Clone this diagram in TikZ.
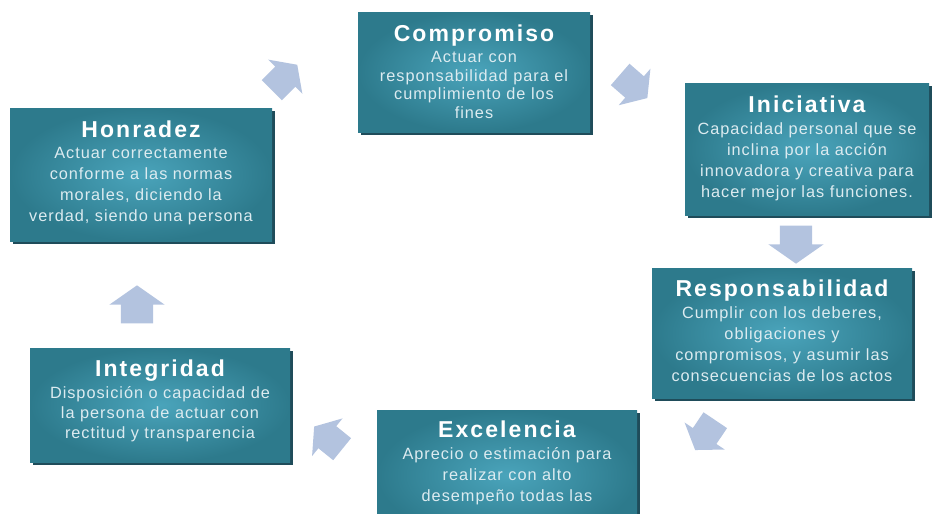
\documentclass[tikz,border=0pt]{standalone}
\usepackage{fontspec}
\setmainfont{Liberation Sans}
\newfontfamily\valtitlefont[LetterSpace=9]{Liberation Sans}
\newfontfamily\valbodyfont[LetterSpace=6]{Liberation Sans}
\usetikzlibrary{positioning,shapes.arrows,shadows}

\definecolor{valouter}{HTML}{2D7A8C}
\definecolor{valinner}{HTML}{4AA4BB}
\definecolor{valshadow}{HTML}{1F4C5A}
\definecolor{valtext}{HTML}{DCEBF0}
\definecolor{cyclefill}{HTML}{B3C3DF}

\begin{document}
\begin{tikzpicture}[x=1pt,y=-1pt,
  valbox/.style={rectangle, inner sep=0pt, shading=radial, inner color=valinner, outer color=valouter,
    drop shadow={shadow xshift=3pt, shadow yshift=-3pt, fill=valshadow, opacity=1}},
  valtitle/.style={text=white, inner sep=0pt, font=\valtitlefont\bfseries\fontsize{23pt}{26pt}\selectfont},
  valbody/.style={text=valtext, inner sep=0pt, align=center, font=\valbodyfont\fontsize{16.3pt}{21pt}\selectfont},
  cyclearrow/.style={single arrow, fill=cyclefill, draw=none, inner sep=0pt, inner ysep=16pt,
    minimum height=38pt, single arrow head extend=11.5pt, single arrow tip angle=110},
  cyclearrowsmall/.style={cyclearrow, inner ysep=14pt, minimum height=36pt, single arrow head extend=10pt}]
\useasboundingbox (0,0) rectangle (932,514);
\clip (0,0) rectangle (932,514);

% boxes
\node[valbox, minimum width=262pt, minimum height=133pt] (honradez) at (141,174.5) {};
\node[valbox, minimum width=232pt, minimum height=120pt] (compromiso) at (474,72) {};
\node[valbox, minimum width=244pt, minimum height=132pt] (iniciativa) at (807,149) {};
\node[valbox, minimum width=260pt, minimum height=130pt] (responsabilidad) at (782,333) {};
\node[valbox, minimum width=260pt, minimum height=130pt] (excelencia) at (507,475) {};
\node[valbox, minimum width=260pt, minimum height=114pt] (integridad) at (160,405) {};

% titles and texts
\node[valtitle, below=12.5pt of honradez.north] (honradez-t) {Honradez};
\node[valbody, below=10pt of honradez-t.base] (honradez-d) {Actuar correctamente\\conforme a las normas\\morales, diciendo la\\verdad, siendo una persona};

\node[valtitle, below=12.5pt of compromiso.north] (compromiso-t) {Compromiso};
\node[valbody, below=10pt of compromiso-t.base, font=\valbodyfont\fontsize{16.3pt}{18.5pt}\selectfont] (compromiso-d) {Actuar con\\responsabilidad para el\\cumplimiento de los\\fines};

\node[valtitle, below=12.5pt of iniciativa.north] (iniciativa-t) {Iniciativa};
\node[valbody, below=10pt of iniciativa-t.base] (iniciativa-d) {Capacidad personal que se\\inclina por la acción\\innovadora y creativa para\\hacer mejor las funciones.};

\node[valtitle, below=11.5pt of responsabilidad.north] (responsabilidad-t) {Responsabilidad};
\node[valbody, below=10pt of responsabilidad-t.base] (responsabilidad-d) {Cumplir con los deberes,\\obligaciones y\\compromisos, y asumir las\\consecuencias de los actos};

\node[valtitle, below=10.5pt of excelencia.north] (excelencia-t) {Excelencia};
\node[valbody, below=10pt of excelencia-t.base] (excelencia-d) {Aprecio o estimación para\\realizar con alto\\desempeño todas las};

\node[valtitle, below=11.5pt of integridad.north] (integridad-t) {Integridad};
\node[valbody, below=10pt of integridad-t.base, font=\valbodyfont\fontsize{16.3pt}{20pt}\selectfont] (integridad-d) {Disposición o capacidad de\\la persona de actuar con\\rectitud y transparencia};

% arrows
\node[cyclearrowsmall, rotate=45] (a1) at (281,81) {};
\node[cyclearrowsmall, rotate=-41] (a2) at (630,83) {};
\node[cyclearrow, rotate=-90] (a3) at (796,239) {};
\node[cyclearrowsmall, rotate=-124] (a4) at (708,431) {};
\node[cyclearrowsmall, rotate=141] (a5) at (332,441) {};
\node[cyclearrow, rotate=90] (a6) at (137,310) {};
\end{tikzpicture}
\end{document}
